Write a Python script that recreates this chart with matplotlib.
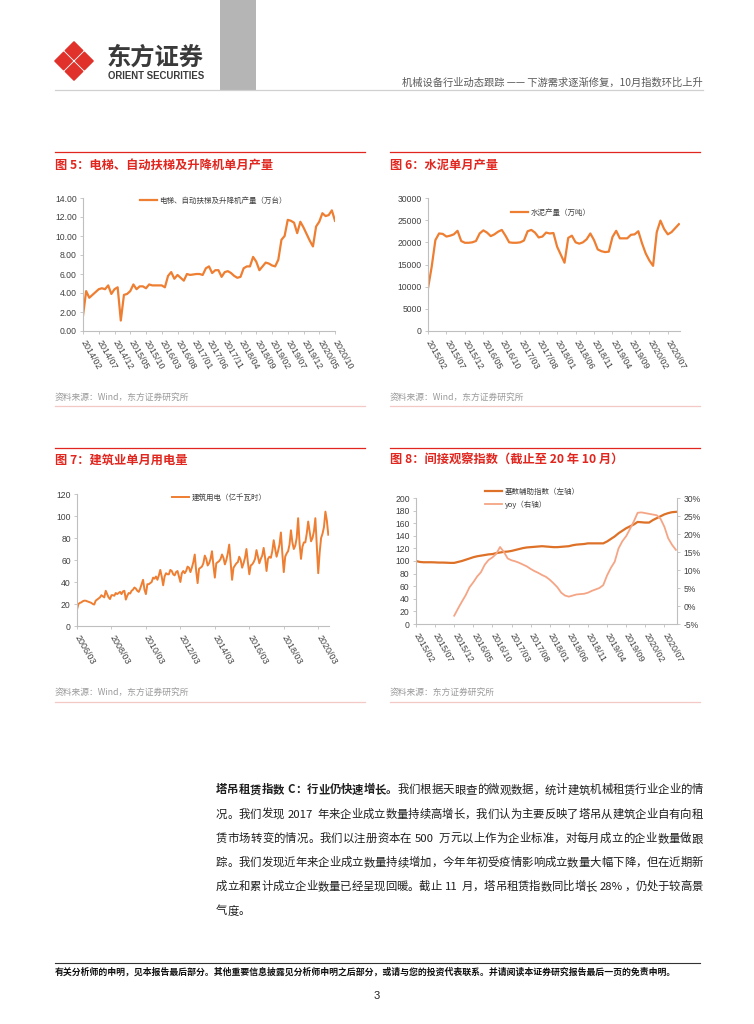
import numpy as np
import matplotlib
matplotlib.use('Agg')
import matplotlib.pyplot as plt
from matplotlib.patches import Polygon, Rectangle

W, H = 754, 1024
CJK = ['Noto Sans CJK SC', 'DejaVu Sans']
LAT = ['Liberation Sans', 'DejaVu Sans']
plt.rcParams['font.family'] = CJK

RED = '#E0261F'
ORANGE = '#EE7E31'
GRID = '#BFBFBF'
TXT = '#404040'

# ---- data read from the page ----
# fig 5: elevator / escalator output, 2014/02 - 2020/10 (10k units)
elev_start = (2014, 2)
elev = [1.6, 4.2, 3.5, 3.8, 4.1, 4.4, 4.5, 4.4, 4.8, 3.9,
        4.4, 4.6, 1.1, 3.8, 3.9, 4.2, 4.9, 4.4, 4.7, 4.7,
        4.5, 4.9, 4.8, 4.8, 4.8, 4.8, 4.6, 5.8, 6.2, 5.5,
        5.9, 5.6, 5.3, 6.0, 5.9, 5.95, 6.0, 6.0, 5.9, 6.6,
        6.8, 6.1, 6.4, 6.4, 5.7, 6.2, 6.3, 6.1, 5.8, 5.6,
        5.7, 6.6, 6.8, 6.8, 7.8, 7.3, 6.4, 6.8, 7.2, 7.1,
        6.9, 6.8, 7.5, 9.6, 10.0, 11.7, 11.6, 11.4, 10.3, 11.5,
        10.9, 10.2, 9.5, 8.9, 11.0, 11.5, 12.4, 12.1, 12.2, 12.7,
        11.6]
elev_labels = ['2014/02', '2014/07', '2014/12', '2015/05', '2015/10', '2016/03',
               '2016/08', '2017/01', '2017/06', '2017/11', '2018/04', '2018/09',
               '2019/02', '2019/07', '2019/12', '2020/05', '2020/10']

# fig 6: cement output (10k t)
cem_start = (2015, 2)
cement = [9600, 14500, 20500, 22000, 21900, 21300, 21500, 21800, 22600, 20300,
          19900, 19900, 20000, 20300, 22000, 22700, 22200, 21400, 21800, 22400,
          22800, 21500, 20000, 19900, 19900, 20000, 20400, 22500, 22800, 22200,
          21100, 21300, 22200, 22000, 22100, 19000, 17200, 15400, 21000, 21500,
          20000, 19700, 20000, 20700, 22000, 20500, 18400, 18000, 17800, 17900,
          21200, 22600, 20900, 20900, 20900, 21700, 21800, 22500, 19800, 17500,
          15900, 14700, 22300, 24900, 23000, 21800, 22300, 23200, 24100]
cem_labels = ['2015/02', '2015/07', '2015/12', '2016/05', '2016/10', '2017/03',
              '2017/08', '2018/01', '2018/06', '2018/11', '2019/04', '2019/09',
              '2020/02', '2020/07']

# fig 7: construction power use (100m kWh)
pow_start = (2006, 3)
power = [15, 20, 21, 21.5, 22.5, 23, 23, 22.5, 22, 21.5,
         21, 20, 19.5, 23, 24, 25, 26, 28, 27, 26,
         32, 29, 26, 24.5, 28, 28, 27.5, 30, 29, 30,
         31, 29, 31.5, 32, 24, 27.5, 30, 29.5, 32, 33,
         35, 34, 32, 31, 34, 38, 42, 33, 29, 38,
         38, 39, 40, 44, 43, 45, 42, 46, 51, 45,
         37, 45, 48, 47, 47, 51, 50, 47, 46, 49,
         50, 45, 40, 48, 50, 48, 50, 54, 53, 49,
         53, 58, 65, 50, 39, 52, 53, 54, 57, 64,
         61, 55, 57, 61, 68, 55, 44, 57, 58, 59,
         61, 65, 62, 56, 60, 66, 74, 58, 42, 53,
         55, 57, 58, 63, 60, 53, 57, 62, 70, 58,
         47, 55, 56, 58, 61, 69, 63, 57, 61, 64,
         71, 62, 50, 61, 63, 62, 68, 78, 70, 63,
         68, 74, 85, 66, 49, 63, 66, 68, 74, 87,
         76, 70, 73, 80, 98, 75, 61, 72, 76, 76,
         84, 95, 86, 77, 80, 86, 98, 72, 48, 67,
         80, 84, 90, 104, 96, 83]
pow_labels = ['2006/03', '2008/03', '2010/03', '2012/03', '2014/03', '2016/03',
              '2018/03', '2020/03']

# fig 8: indirect index (left) and yoy % (right)
idx_start = (2015, 2)
index = [100, 98.5, 98, 98, 98, 97.8, 97.5, 97.5, 97.3, 97,
         97, 98.5, 100, 102, 104, 106, 107.5, 108.5, 109.5, 110.5,
         111, 112.5, 113.5, 114.5, 115, 116, 117.5, 119, 120.5, 121.5,
         122, 122.5, 123, 123.5, 123, 122.5, 122, 122, 122.5, 123,
         123.5, 125, 126, 126.5, 127, 128, 128, 128, 128, 128,
         131, 135, 139, 144, 148, 152, 155, 158, 162, 161.5,
         161, 161, 165, 168, 171, 174, 176, 177.5, 178]
yoy = [None] * 10 + [
       -2.7, -0.7, 1.2, 3.0, 5.2, 6.6, 8.2, 9.4, 11.5, 12.8,
       13.5, 14.5, 16.4, 15.0, 13.2, 12.7, 12.4, 12.0, 11.5, 11.0,
       10.3, 9.7, 9.2, 8.6, 8.1, 7.3, 6.3, 5.2, 3.7, 2.9,
       2.6, 2.9, 3.2, 3.3, 3.4, 3.7, 4.2, 4.6, 5.0, 5.8,
       8.5, 10.6, 12.3, 16.0, 18.0, 19.4, 21.4, 23.5, 25.9, 26.0,
       25.8, 25.6, 25.4, 25.2, 24.2, 22.0, 18.8, 17.0, 15.6]
idx_labels = cem_labels

para = [
    [('塔吊租赁指数 C：行业仍快速增长。', 'bold'), ('我们根据天眼查的微观数据，统计建筑机械租赁行业企业的情', 'normal')],
    [('况。我们发现 2017 年来企业成立数量持续高增长，我们认为主要反映了塔吊从建筑企业自有向租', 'normal')],
    [('赁市场转变的情况。我们以注册资本在 500 万元以上作为企业标准，对每月成立的企业数量做跟', 'normal')],
    [('踪。我们发现近年来企业成立数量持续增加，今年年初受疫情影响成立数量大幅下降，但在近期新', 'normal')],
    [('成立和累计成立企业数量已经呈现回暖。截止 11 月，塔吊租赁指数同比增长 28%，仍处于较高景', 'normal')],
    [('气度。', 'normal')],
]


def month_list(start, n):
    y, m = start
    out = []
    for i in range(n):
        out.append('%d/%02d' % (y, m))
        m += 1
        if m > 12:
            m = 1
            y += 1
    return out


fig = plt.figure(figsize=(W / 100, H / 100), dpi=100)
deco = fig.add_axes([0, 0, 1, 1])
deco.set_xlim(0, W)
deco.set_ylim(H, 0)
deco.axis('off')


def px_axes(l, t, r, b):
    ax = fig.add_axes([l / W, 1 - b / H, (r - l) / W, (b - t) / H])
    ax.patch.set_alpha(0)
    return ax


def style(ax):
    for s in ['top', 'right']:
        ax.spines[s].set_visible(False)
    for s in ['left', 'bottom']:
        ax.spines[s].set_color(GRID)
        ax.spines[s].set_linewidth(0.8)
    ax.tick_params(length=2.5, width=0.6, color=GRID, labelsize=6.2, labelcolor=TXT, pad=2)


def set_y(ax, ticks, labels):
    ax.set_yticks(ticks)
    ax.set_yticklabels(labels, fontfamily=LAT, fontsize=6.2, color=TXT)


def set_x(ax, months, labels):
    pos = [months.index(l) for l in labels]
    ax.set_xticks(pos)
    ax.set_xticklabels(labels, rotation=-60, ha='left', va='center',
                       rotation_mode='anchor', fontfamily=LAT, fontsize=6.4, color=TXT)
    ax.tick_params(axis='x', pad=4.5)


def legend(ax, handles, x, y, loc='center left'):
    lg = ax.legend(handles=handles, loc=loc, bbox_to_anchor=(x, y),
                   bbox_transform=deco.transData, frameon=False, fontsize=5.4,
                   handlelength=2.3, handletextpad=0.3, borderpad=0,
                   borderaxespad=0, labelspacing=0.55)
    for t in lg.get_texts():
        t.set_color(TXT)


# ---- header ----
cx, cy, o, h = 74, 61, 10.4, 8.6
for dx, dy in [(0, -o), (0, o), (-o, 0), (o, 0)]:
    px, py = cx + dx, cy + dy
    deco.add_patch(Polygon([(px, py - h), (px + h, py), (px, py + h), (px - h, py)],
                           closed=True, facecolor='#E0312B', edgecolor='#E0312B',
                           linewidth=1.2, joinstyle='round'))
deco.text(107, 58, '东方证券', fontsize=17.5, fontweight='bold', color='#3A3A3A', va='center')
deco.text(108, 76, 'ORIENT SECURITIES', fontsize=6.9, fontweight='bold', color='#3A3A3A',
          va='center', family=LAT)
deco.add_patch(Rectangle((220, 0), 36, 90, facecolor='#B5B5B5', edgecolor='none'))
deco.text(703, 83, '机械设备行业动态跟踪 —— 下游需求逐渐修复，10月指数环比上升',
          fontsize=7.4, color='#5A5A5A', ha='right', va='center')
deco.plot([55, 703], [89.5, 89.5], color='#D0D0D0', lw=0.9)

# ---- section frames ----
for x0, x1 in [(55, 365), (390, 700)]:
    deco.plot([x0, x1], [152, 152], color=RED, lw=0.9)
    deco.plot([x0, x1], [448, 448], color=RED, lw=0.9)
    deco.plot([x0, x1], [406, 406], color='#F3C9C6', lw=0.9)
    deco.plot([x0, x1], [702, 702], color='#F3C9C6', lw=0.9)

titles = [(55, 165, '图 5：电梯、自动扶梯及升降机单月产量'),
          (390, 165, '图 6：水泥单月产量'),
          (55, 460, '图 7：建筑业单月用电量'),
          (390, 460, '图 8：间接观察指数（截止至 20 年 10 月）')]
for x, y, s in titles:
    deco.text(x, y, s, color=RED, fontsize=8.8, fontweight='bold', va='center')

sources = [(55, 397, '资料来源：Wind，东方证券研究所'),
           (390, 397, '资料来源：Wind，东方证券研究所'),
           (55, 692, '资料来源：Wind，东方证券研究所'),
           (390, 692, '资料来源：东方证券研究所')]
for x, y, s in sources:
    deco.text(x, y, s, color='#9A9A9A', fontsize=6.3, va='center')

# ---- fig 5 ----
ax5 = px_axes(83, 198, 335, 331)
style(ax5)
m5 = month_list(elev_start, len(elev))
l5, = ax5.plot(np.arange(len(elev)), elev, color=ORANGE, lw=1.6, solid_joinstyle='round',
               label='电梯、自动扶梯及升降机产量（万台）')
ax5.set_xlim(0, len(elev) - 1)
ax5.set_ylim(0, 14)
set_y(ax5, np.arange(0, 15, 2), ['%.2f' % v for v in np.arange(0, 15, 2)])
set_x(ax5, m5, elev_labels)
legend(ax5, [l5], 140, 201)

# ---- fig 6 ----
ax6 = px_axes(428, 198, 680, 331)
style(ax6)
m6 = month_list(cem_start, len(cement))
l6, = ax6.plot(np.arange(len(cement)), cement, color=ORANGE, lw=1.6, solid_joinstyle='round',
               label='水泥产量（万吨）')
ax6.set_xlim(0, len(cement) - 0.7)
ax6.set_ylim(0, 30000)
set_y(ax6, np.arange(0, 30001, 5000), [str(v) for v in range(0, 30001, 5000)])
set_x(ax6, m6, cem_labels)
legend(ax6, [l6], 511, 213)

# ---- fig 7 ----
ax7 = px_axes(77, 494, 329, 626)
style(ax7)
m7 = month_list(pow_start, len(power))
l7, = ax7.plot(np.arange(len(power)), power, color=ORANGE, lw=1.4, solid_joinstyle='round',
               label='建筑用电（亿千瓦时）')
ax7.set_xlim(0, len(power) - 0.5)
ax7.set_ylim(0, 120)
set_y(ax7, np.arange(0, 121, 20), [str(v) for v in range(0, 121, 20)])
set_x(ax7, m7, pow_labels)
legend(ax7, [l7], 172, 498)

# ---- fig 8 ----
ax8 = px_axes(416, 498, 677, 624)
style(ax8)
m8 = month_list(idx_start, len(index))
x8 = np.arange(len(index))
l8a, = ax8.plot(x8, index, color='#DE7128', lw=1.6, solid_joinstyle='round',
                label='基数辅助指数（左轴）')
ax8.set_xlim(0, len(index) - 0.7)
ax8.set_ylim(0, 200)
set_y(ax8, np.arange(0, 201, 20), [str(v) for v in range(0, 201, 20)])
set_x(ax8, m8, idx_labels)
ax8b = ax8.twinx()
ax8b.patch.set_alpha(0)
for s in ['top', 'left', 'bottom']:
    ax8b.spines[s].set_visible(False)
ax8b.spines['right'].set_color(GRID)
ax8b.spines['right'].set_linewidth(0.8)
yoy_arr = np.array([np.nan if v is None else v for v in yoy])
l8b, = ax8b.plot(x8, yoy_arr, color='#F5A585', lw=1.3, solid_joinstyle='round',
                 label='yoy（右轴）')
ax8b.set_ylim(-5, 30)
ax8b.set_yticks(np.arange(-5, 31, 5))
ax8b.set_yticklabels(['%d%%' % v for v in range(-5, 31, 5)], fontfamily=LAT, fontsize=6.2, color=TXT)
ax8b.tick_params(length=2.5, width=0.6, color=GRID, pad=2)
legend(ax8b, [l8a, l8b], 485, 488, loc='upper left')

# ---- paragraph, justified ----
renderer = fig.canvas.get_renderer()
PS = 8.2
EM = PS * 100 / 72


def put_line(x0, x1, y, runs, justify):
    tokens = []
    for text, weight in runs:
        buf = ''
        for ch in text:
            if ord(ch) < 128 and ch != ' ':
                buf += ch
                continue
            if buf:
                tokens.append((buf, weight))
                buf = ''
            tokens.append((ch, weight))
        if buf:
            tokens.append((buf, weight))
    base = y + EM * 0.38
    arts, widths = [], []
    for tok, weight in tokens:
        if tok == ' ':
            arts.append(None)
            widths.append(EM * 0.3)
            continue
        t = deco.text(0, base, tok, fontsize=PS, fontweight=weight, color='#1E1E1E',
                      va='baseline', ha='left')
        arts.append(t)
        if ord(tok[0]) < 128:
            widths.append(t.get_window_extent(renderer).width + EM * 0.08)
        else:
            widths.append(EM)
    gap = (x1 - x0 - sum(widths)) / (len(tokens) - 1) if justify else 0
    x = x0
    for t, w in zip(arts, widths):
        if t is not None:
            t.set_x(x)
        x += w + gap


for i, runs in enumerate(para):
    put_line(216, 703, 789 + 24.2 * i, runs, i < len(para) - 1)

# ---- footer ----
deco.plot([55, 700], [963, 963], color='#333333', lw=0.8)
deco.text(55, 972, '有关分析师的申明，见本报告最后部分。其他重要信息披露见分析师申明之后部分，或请与您的投资代表联系。并请阅读本证券研究报告最后一页的免责申明。',
          fontsize=6.4, fontweight='bold', color='#111111', va='center')
deco.text(377, 996, '3', fontsize=8, ha='center', va='center', family=LAT, color='#222222')

fig.savefig('out.png', dpi=100)
